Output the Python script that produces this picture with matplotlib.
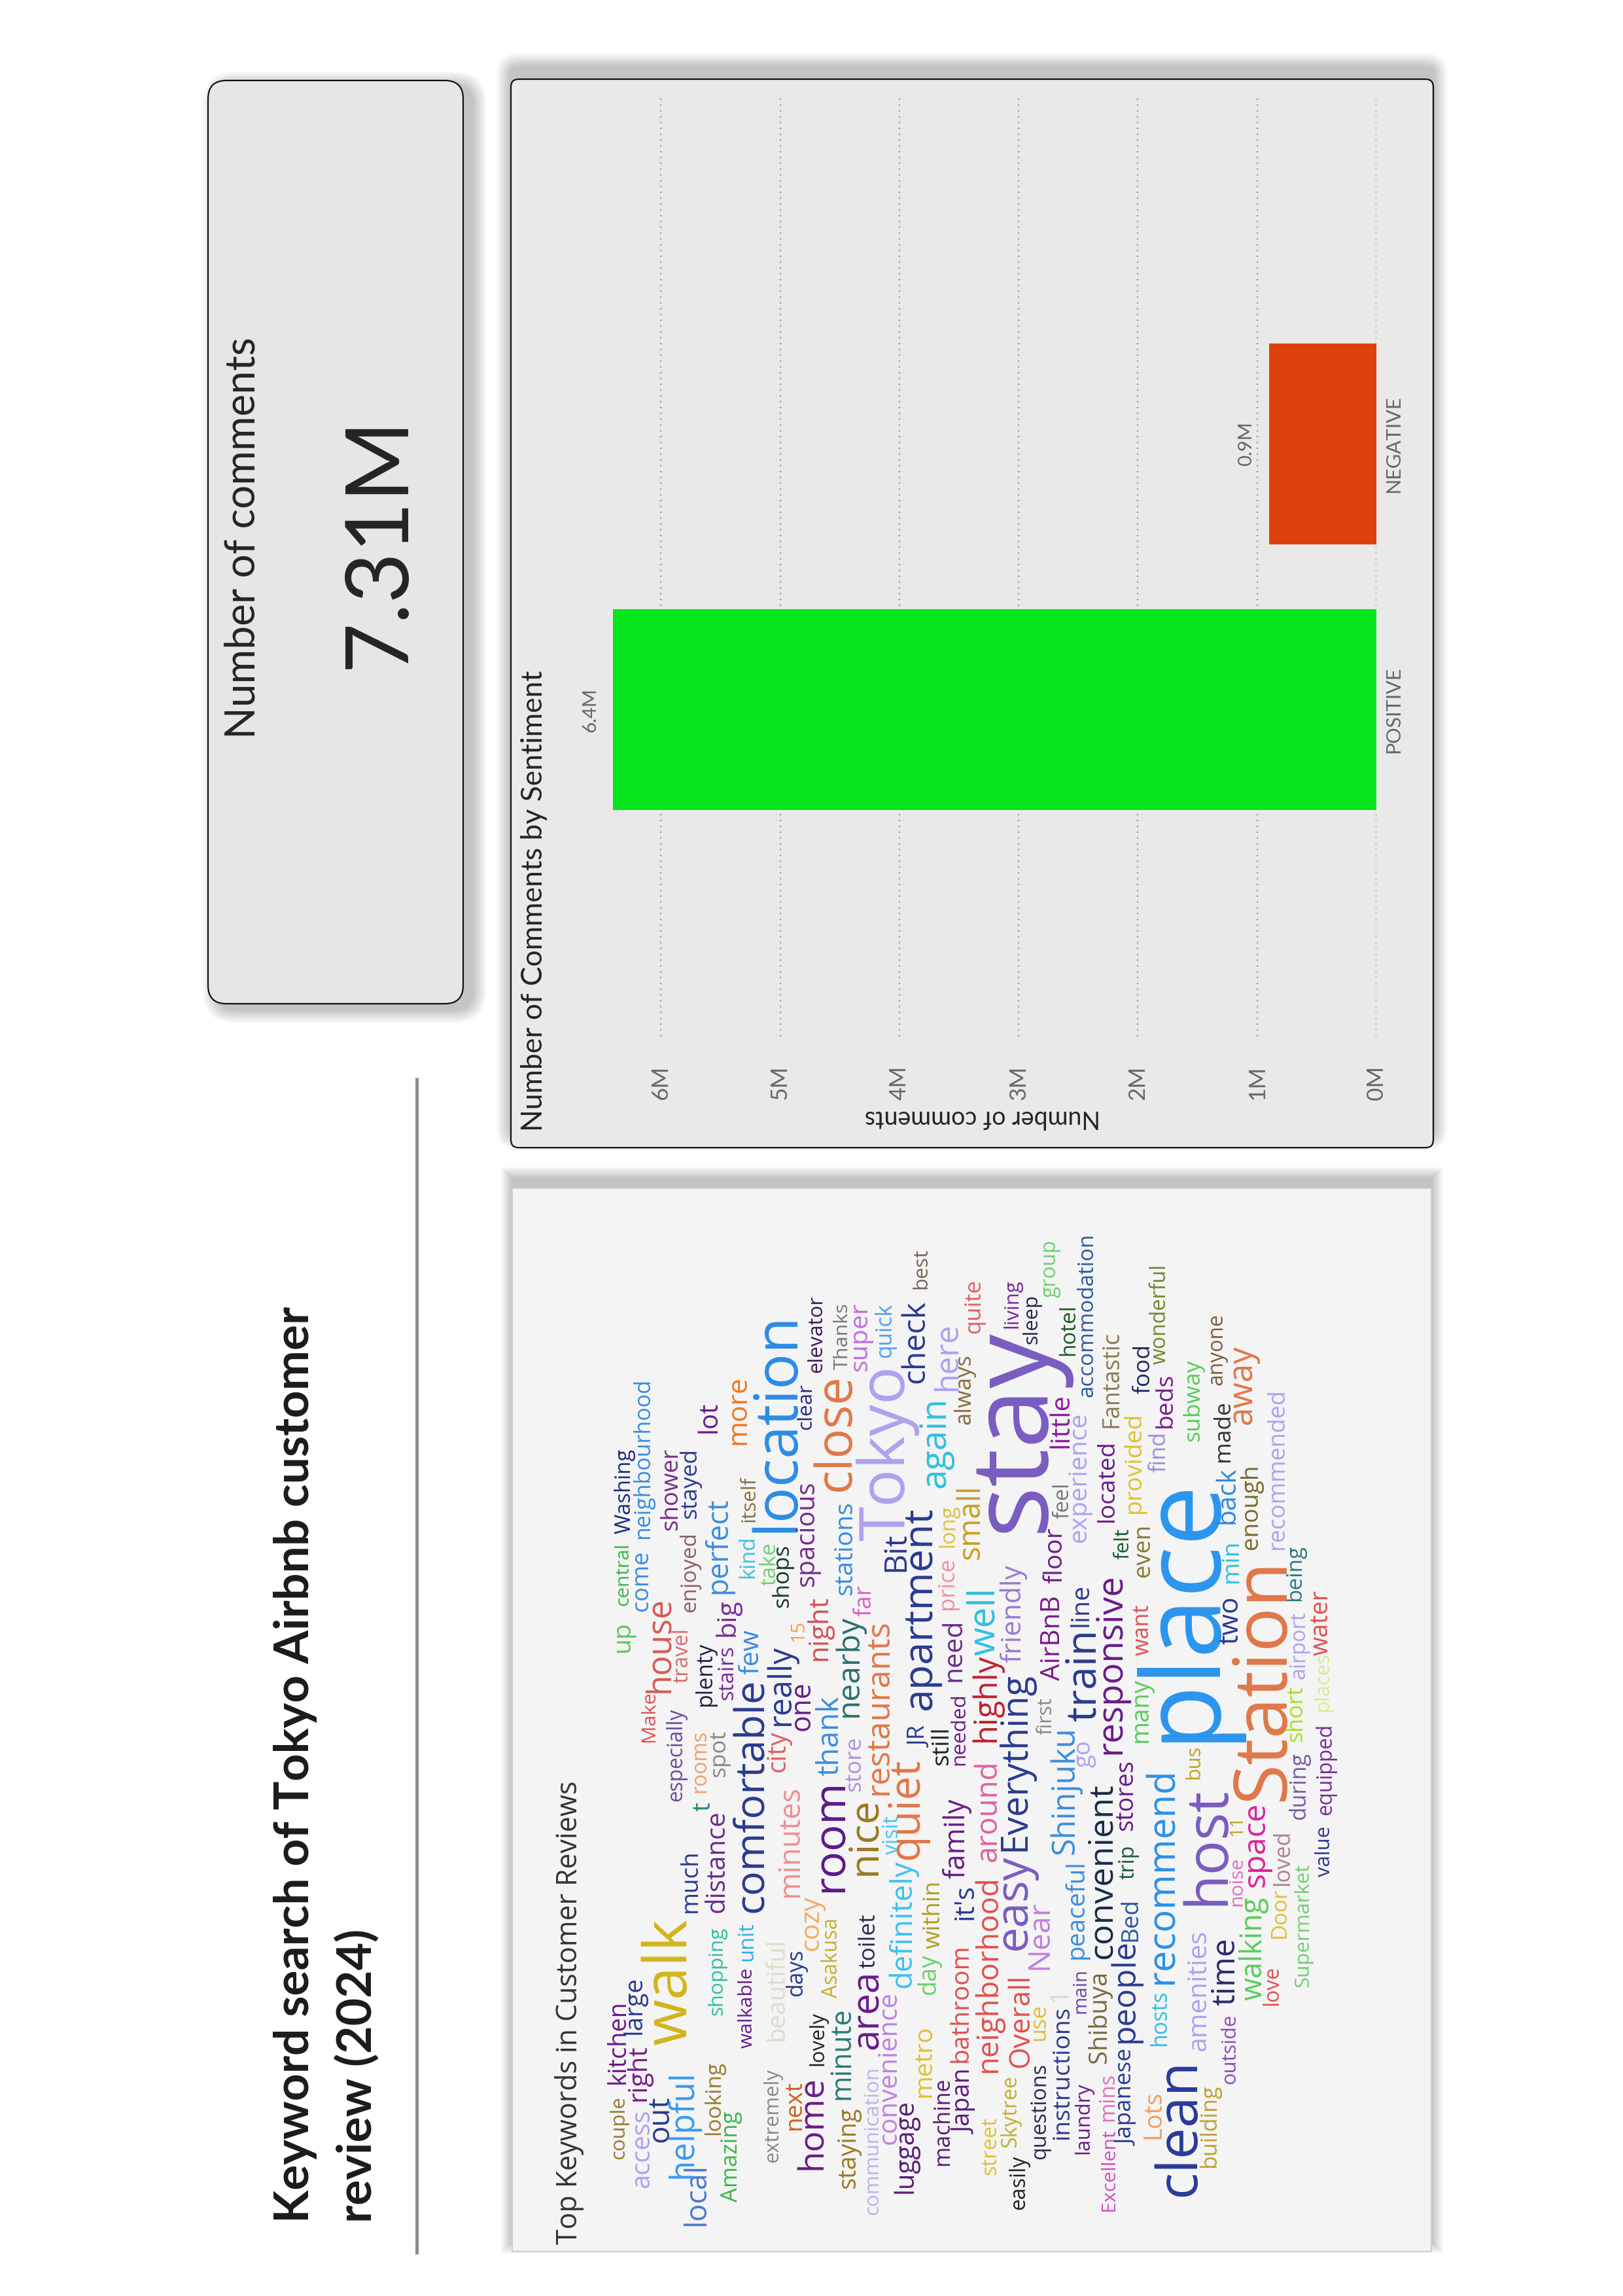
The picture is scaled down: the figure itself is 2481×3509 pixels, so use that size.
import matplotlib
matplotlib.use("Agg")
import matplotlib.pyplot as plt
from matplotlib.patches import FancyBboxPatch
from matplotlib.ticker import FuncFormatter
from matplotlib import font_manager

W, H = 2481, 3509

installed = {f.name for f in font_manager.fontManager.ttflist}


def pick(*names):
    for n in names:
        if n in installed:
            return n
    return "DejaVu Sans"


DIN = pick("Lato", "Roboto", "DejaVu Sans")
SEGOE = pick("Open Sans", "Noto Sans", "DejaVu Sans")
plt.rcParams["font.family"] = [DIN, "DejaVu Sans"]

# ---- data ----
sentiments = ["POSITIVE", "NEGATIVE"]
comments = [6.4e6, 0.9e6]
bar_colors = ["#05E61C", "#DE400B"]
total_comments = 7.31e6
value_ticks = [0, 1e6, 2e6, 3e6, 4e6, 5e6, 6e6]

words = [
    "up", "central", "Washing", "come", "neighbourhood", "house", "shower", "travel",
    "enjoyed", "stayed", "plenty", "lot", "stairs", "big", "perfect", "more", "few",
    "kind", "itself", "location", "take", "shops", "really", "clear", "elevator",
    "spacious", "15", "night", "close", "Thanks", "stations", "nearby", "far", "super",
    "Tokyo", "quick", "Bit", "check", "best", "apartment", "again", "here", "long",
    "price", "need", "always", "small",
    "quite", "living", "sleep", "group", "stay", "hotel", "accommodation", "little",
    "feel", "experience", "Fantastic", "located", "floor", "friendly", "well", "AirBnB",
    "line", "train", "felt", "provided", "food", "wonderful", "beds", "find", "even",
    "want", "place", "back", "made", "anyone", "away", "subway", "min", "two", "enough",
    "recommended", "being", "airport", "water", "places",
    "couple", "kitchen", "access", "right", "large", "out", "walk", "much", "local",
    "helpful", "looking", "shopping", "Amazing", "especially", "Make", "rooms", "t",
    "spot", "distance", "comfortable", "walkable", "unit", "beautiful", "extremely",
    "city", "next", "minutes", "days", "cozy", "one", "home", "lovely", "Asakusa",
    "room", "thank", "minute", "staying", "store", "nice", "area", "toilet",
    "restaurants", "communication", "convenience", "visit", "definitely", "quiet", "JR",
    "still", "luggage", "metro", "within", "day", "machine", "needed", "family", "it's",
    "Japan", "bathroom",
    "around", "neighborhood", "street", "easily", "Skytree", "Overall", "use", "1",
    "questions", "instructions", "Near", "easy", "Everything", "highly", "first",
    "Shinjuku", "go", "peaceful", "main", "laundry", "responsive", "convenient",
    "Shibuya", "Excellent", "mins", "trip", "stores", "Bed", "people", "Japanese", "many",
    "bus", "recommend", "hosts", "Lots", "clean", "amenities", "host", "building",
    "outside", "time", "11", "noise", "Station", "walking", "space", "love", "Door",
    "loved", "Supermarket", "during", "short", "value", "equipped",
]

word_colors = [
    "#5cc95c", "#3cb44b", "#1f2a80", "#3a8de0", "#3a8de0", "#d65a5a", "#7a2a8a", "#e06a6a",
    "#8a6060", "#2a3a90", "#222244", "#6a1a8a", "#7a2a9a", "#7a2a9a", "#3a8de0", "#f07820", "#3a8de0",
    "#40c0e0", "#8a7040", "#2b8ce6", "#70d070", "#1a3a2a", "#2a3a90", "#2a2a80", "#3a1a5a",
    "#7a2a8a", "#f0a050", "#d65050", "#e07848", "#777777", "#3a8de0", "#2a7070", "#e060c0", "#c070e0",
    "#b0a0f0", "#50a0f0", "#2a3a90", "#2a3a90", "#776655", "#2a3a90", "#30c0e0", "#b0a0f0", "#e0c040",
    "#f090a0", "#6a2a8a", "#8a6a40", "#c8a020",
    "#e06060", "#7a2a9a", "#1a2a4a", "#70d070", "#7a5cc0", "#1a5a2a", "#2a5aa0", "#8a1a9a",
    "#777777", "#b0a0f0", "#8a7a50", "#6a1a8a", "#6a1a8a", "#9a7ad0", "#30c0e0", "#7a1a8a",
    "#2a3a90", "#2a3a90", "#1a5a2a", "#e0c030", "#1a2a6a", "#6a8a2a", "#7a1a8a", "#a08ae0", "#8a7a30",
    "#e05050", "#2b95ee", "#2a8ae0", "#333333", "#7a6040", "#e07848", "#5acc5a", "#30c0e0", "#2a3a90", "#7a6a30",
    "#b0a0f0", "#2a7a7a", "#b0a0f0", "#e05050", "#d0f090",
    "#9a7a30", "#6a1a8a", "#b0a0f0", "#7a1a8a", "#2a3a90", "#2a3a90", "#d4b41a", "#2a3a90", "#4a7ad0",
    "#3a9af0", "#9a7a30", "#30c0a0", "#3cb44b", "#6a4aa0", "#e05050", "#f0a070", "#2a8a7a",
    "#888888", "#6a2a8a", "#2a3a90", "#6a1a8a", "#30b0e0", "#e0dcc8", "#888888",
    "#e06060", "#d06020", "#f09090", "#2a3a90", "#f0b060", "#6a1a8a", "#6a1a8a", "#222222", "#c8b030",
    "#5a1a8a", "#3a8de0", "#2a7a7a", "#9a7a20", "#b090e0", "#9a7a20", "#6a1a8a", "#2a2a50",
    "#e07848", "#c0b0f0", "#c080e0", "#40c8f0", "#40c0f0", "#e07848", "#2a3a90",
    "#222222", "#5a1a7a", "#e0c030", "#b0a020", "#70d070", "#5a1a7a", "#6a1a8a", "#6a1a8a", "#2a3a90",
    "#5a1a7a", "#e05050",
    "#e060a0", "#e05050", "#e0c030", "#222222", "#c0b030", "#e05050", "#e0c030", "#e0d8c8",
    "#2a2a4a", "#2a3a90", "#c080e0", "#7a5cc0", "#2a3a90", "#c02030", "#888888",
    "#3a8de0", "#b0a0f0", "#3a8de0", "#6a4aa0", "#6a1a8a", "#6a1a8a", "#1a2a4a",
    "#7a6a40", "#d050c0", "#e070c0", "#1a5a3a", "#6a1a8a", "#2a5aa0", "#2a3a90", "#2a3a90", "#5acc5a",
    "#c0a020", "#2b90e8", "#30c0e0", "#f0a060", "#2a3a9a", "#b0a0f0", "#7a5cc0", "#c0a030",
    "#8a4ac0", "#2a2a70", "#c0a020", "#e070c0", "#e07848", "#5acc5a", "#e0209a", "#e05050", "#e0c030",
    "#b08090", "#70d070", "#7a5ca0", "#a8e020", "#2a3a90", "#7a2a9a",
]

# word cloud layout on the page: baseline x, start y, end y (text runs upward)
word_pos = [
    (962, 2525, 2480), (960, 2454, 2360), (964, 2344, 2216), (990, 2462, 2373),
    (992, 2352, 2109), (1022, 2587, 2444), (1035, 2339, 2216), (1051, 2572, 2491),
    (1063, 2464, 2344), (1064, 2321, 2216), (1087, 2608, 2512), (1095, 2190, 2145),
    (1120, 2598, 2517), (1123, 2501, 2446), (1110, 2436, 2292), (1139, 2208, 2106),
    (1159, 2559, 2493), (1152, 2412, 2349), (1154, 2326, 2258), (1212, 2342, 2012),
    (1186, 2423, 2360), (1205, 2457, 2363), (1207, 2637, 2517), (1240, 2185, 2117),
    (1256, 2098, 1983), (1244, 2425, 2266), (1228, 2509, 2478), (1263, 2538, 2441),
    (1299, 2279, 2106), (1296, 2093, 1994), (1302, 2438, 2297), (1311, 2624, 2472),
    (1332, 2470, 2425), (1325, 2096, 1994), (1382, 2355, 2096), (1362, 2075, 1994),
    (1382, 2402, 2345), (1412, 2114, 1991), (1416, 1970, 1910), (1423, 2614, 2308),
    (1444, 2274, 2138), (1462, 2125, 2025), (1458, 2365, 2302), (1457, 2460, 2383),
    (1468, 2570, 2477), (1483, 2177, 2072), (1497, 2383, 2272),
    (1498, 2038, 1957), (1555, 2030, 1957), (1585, 2054, 1981), (1613, 1983, 1897),
    (1594, 2342, 2041), (1642, 2072, 1996), (1670, 2135, 1887), (1633, 2213, 2132),
    (1633, 2321, 2268), (1660, 2357, 2161), (1709, 2182, 2036), (1702, 2326, 2203),
    (1623, 2420, 2338), (1560, 2541, 2394), (1520, 2530, 2431), (1620, 2568, 2442),
    (1663, 2486, 2423), (1675, 2630, 2494), (1725, 2383, 2338), (1743, 2313, 2161),
    (1757, 2130, 2057), (1782, 2085, 1934), (1791, 2182, 2101), (1782, 2250, 2190),
    (1757, 2410, 2332), (1756, 2530, 2454), (1852, 2662, 2268), (1887, 2329, 2245),
    (1879, 2234, 2143), (1869, 2117, 2010), (1913, 2177, 2059), (1833, 2203, 2080),
    (1892, 2419, 2355), (1892, 2513, 2443), (1922, 2368, 2240), (1962, 2368, 2125),
    (1988, 2447, 2363), (1995, 2566, 2465), (2030, 2530, 2433), (2030, 2616, 2528),
    (954, 3300, 3206), (955, 3185, 3059), (992, 3344, 3227), (987, 3211, 3127),
    (980, 3109, 3023), (1022, 3274, 3206), (1049, 3125, 2939), (1065, 2923, 2829),
    (1077, 3402, 3310), (1058, 3329, 3167), (1100, 3263, 3153), (1104, 3080, 2947),
    (1127, 3365, 3229), (1042, 2753, 2613), (1000, 2662, 2587), (1078, 2740, 2647),
    (1085, 2768, 2757), (1108, 2716, 2647), (1107, 2923, 2769), (1165, 2923, 2570),
    (1150, 3130, 3010), (1150, 2997, 2939), (1198, 3119, 2963), (1189, 3305, 3164),
    (1200, 2708, 2647), (1224, 3255, 3182), (1220, 2900, 2732), (1226, 3051, 2981),
    (1251, 2981, 2900), (1238, 2645, 2573), (1256, 3316, 3177), (1258, 3157, 3077),
    (1280, 3053, 2933), (1288, 2892, 2725), (1281, 2714, 2595), (1298, 3209, 3070),
    (1307, 3345, 3223), (1315, 2738, 2657), (1338, 2866, 2751), (1342, 3132, 3015),
    (1338, 3008, 2927), (1357, 2743, 2478), (1342, 3385, 3160), (1370, 3277, 3047),
    (1373, 2834, 2777), (1393, 3038, 2845), (1403, 2842, 2691), (1416, 2670, 2641),
    (1449, 2698, 2641), (1395, 3352, 3210), (1423, 3205, 3098), (1437, 2978, 2876),
    (1430, 3048, 2988), (1450, 3310, 3177), (1474, 2698, 2590), (1474, 2871, 2751),
    (1487, 2934, 2882), (1485, 3262, 3166), (1479, 3152, 2974),
    (1523, 2845, 2693), (1523, 3168, 2871), (1522, 3324, 3238), (1566, 3377, 3296),
    (1553, 3282, 3174), (1572, 3160, 3021), (1597, 3119, 3065), (1630, 3060, 3041),
    (1598, 3300, 3155), (1633, 3270, 3068), (1602, 3010, 2908), (1568, 2981, 2840),
    (1566, 2829, 2559), (1521, 2662, 2530), (1608, 2651, 2596), (1642, 2834, 2641),
    (1667, 2701, 2662), (1656, 2994, 2845), (1660, 3077, 3010), (1664, 3292, 3185),
    (1712, 2681, 2409), (1699, 2994, 2730), (1691, 3153, 3014), (1703, 3379, 3256),
    (1702, 3242, 3170), (1734, 2872, 2822), (1731, 2798, 2693), (1737, 2967, 2903),
    (1733, 3122, 2968), (1732, 3279, 3135), (1754, 2663, 2567), (1833, 2719, 2669),
    (1793, 3032, 2707), (1782, 3127, 3044), (1773, 3269, 3198), (1826, 3357, 3153),
    (1843, 3135, 2952), (1870, 2912, 2737), (1858, 3313, 3187), (1888, 3185, 3080),
    (1887, 3065, 2965), (1898, 2806, 2776), (1898, 2913, 2840), (1962, 2753, 2388),
    (1928, 3057, 2902), (1933, 2884, 2758), (1953, 3065, 3007), (1965, 2962, 2888),
    (1970, 2882, 2800), (2000, 3037, 2850), (1995, 2781, 2680), (1990, 2662, 2579),
    (2033, 2868, 2793), (2035, 2774, 2636),
]

fig = plt.figure(figsize=(W / 100, H / 100), dpi=100)
fig.patch.set_facecolor("white")
bg = fig.add_axes([0, 0, 1, 1])
bg.set_xlim(0, W)
bg.set_ylim(H, 0)
bg.axis("off")
renderer = fig.canvas.get_renderer()


def fit(t, length):
    # scale font so the text runs `length` px along the page
    f = t.get_fontsize()
    a = t.get_window_extent(renderer).height / f
    t.set_fontsize(length / (a - 0.111))
    return t


def up_text(x, y, s, length=None, **kw):
    t = bg.text(x, y, s, rotation=90, rotation_mode="anchor", ha="left",
                va="baseline", zorder=5, **kw)
    if length:
        fit(t, length)
    return t


def panel(x, y, w, h, fc, ec, lw, r, dx, dy, spread, style="round"):
    n = 12
    for i in range(n):
        g = spread * (i + 1) / n
        box = "square,pad=0" if style == "square" else f"round,pad=0,rounding_size={r + g}"
        bg.add_patch(FancyBboxPatch((x + dx - g, y + dy - g), w + 2 * g, h + 2 * g,
                                    boxstyle=box, fc="black", ec="none", alpha=0.018, zorder=1))
    box = "square,pad=0" if style == "square" else f"round,pad=0,rounding_size={r}"
    bg.add_patch(FancyBboxPatch((x, y), w, h, boxstyle=box, fc=fc, ec=ec, lw=lw, zorder=2))


# page title and divider
title = up_text(472, 3397, "Keyword search of Tokyo Airbnb customer", 1400,
                family=[pick("Lato", "DejaVu Sans")], fontweight="bold", color="#1b1b1b")
up_text(567, 3397, "review (2024)", family=[pick("Lato", "DejaVu Sans")],
        fontweight="bold", color="#1b1b1b", fontsize=title.get_fontsize())
bg.plot([637, 637], [1647, 3445], color="#8c8c8c", lw=3.6, solid_capstyle="butt", zorder=2)

# KPI card
panel(318, 123, 390, 1411, "#E6E6E6", "#111111", 1.6, 28, 14, 8, 22)
up_text(390, 1129, "Number of comments", 610, family=[DIN], color="#252423")
bg.text(618, 828, f"{total_comments / 1e6:.2f}M", rotation=90, rotation_mode="anchor",
        ha="center", va="baseline", fontsize=96, family=[DIN], color="#252423", zorder=5)

# bar chart panel
panel(781, 121, 1410, 1633, "#E9E9E9", "#111111", 1.6, 12, 0, -18, 22)
up_text(829, 1729, "Number of Comments by Sentiment", 702, family=[DIN], color="#252423")

ax_l, ax_r, ax_t, ax_b = 900, 2104, 148, 1584
ax = fig.add_axes([ax_l / W, 1 - ax_b / H, (ax_r - ax_l) / W, (ax_b - ax_t) / H])
ax.set_facecolor("none")
pos = list(range(len(sentiments)))
ax.barh(pos, comments, height=0.756, color=bar_colors, zorder=3)
px_per_m = 182.3
ax.set_xlim((ax_r - ax_l) / px_per_m * 1e6, 0)
ax.set_ylim(-1.230, 2.307)
ax.set_xticks(value_ticks)
ax.xaxis.set_major_formatter(FuncFormatter(lambda v, p: f"{v / 1e6:.0f}M"))
ax.grid(axis="x", color="#9b9b9b", linestyle=(0, (1, 3)), linewidth=1.6)
ax.set_axisbelow(True)
for s in ax.spines.values():
    s.set_visible(False)
ax.tick_params(axis="x", length=0, pad=32, labelsize=25, labelcolor="#666666",
               labelrotation=90)
ax.yaxis.tick_right()
ax.set_yticks(pos)
ax.set_yticklabels(sentiments, rotation=90, va="center")
ax.tick_params(axis="y", length=0, pad=9, labelsize=22, labelcolor="#666666")
ax.set_xlabel("Number of comments", rotation=180, fontsize=27, color="#252423")
ax.xaxis.set_label_coords(0.5, (ax_b - 1708) / (ax_b - ax_t))
ax.xaxis.label.set_va("center")
for i, v in enumerate(comments):
    ax.annotate(f"{v / 1e6:.1f}M", (v, i), xytext=(-35, 0), textcoords="offset pixels",
                rotation=90, ha="center", va="center", fontsize=21, color="#666666")

# word cloud panel
panel(783, 1816, 1405, 1625, "#F4F4F4", "#CFCFCF", 1.5, 0, 0, -15, 18, style="square")
up_text(882, 3430, "Top Keywords in Customer Reviews", 705, family=[SEGOE], color="#333333")

for w, c, (x, y0, y1) in zip(words, word_colors, word_pos):
    up_text(x, y0, w, y0 - y1, family=[SEGOE], color=c)

fig.savefig("out.png", dpi=100, facecolor="white")
